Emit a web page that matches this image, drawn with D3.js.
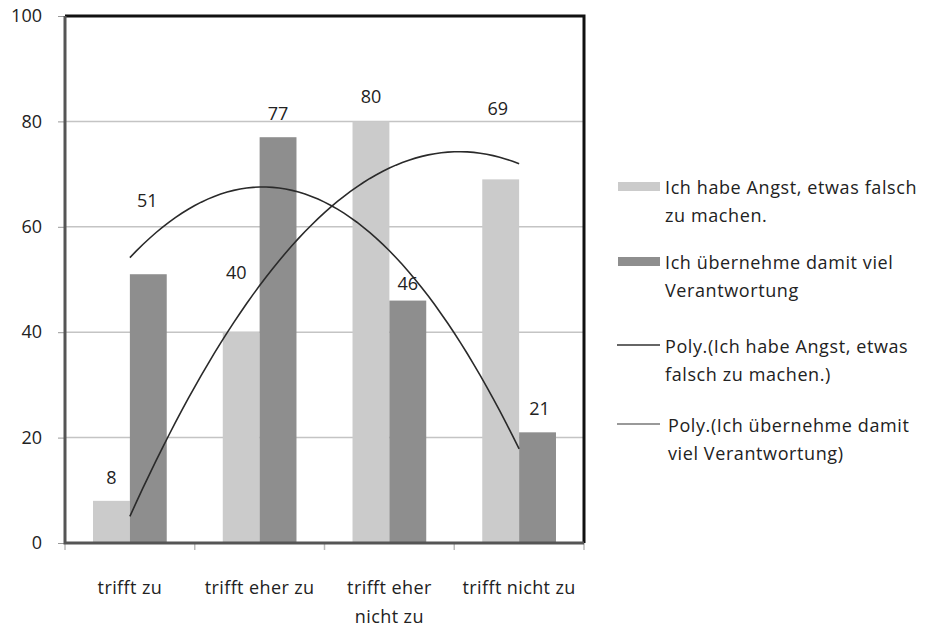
<!DOCTYPE html>
<meta charset="utf-8">
<style>
body {
  margin: 0;
  background: #fff;
  font-family: "Open Sans", "Liberation Sans", sans-serif;
}
text {
  fill: #222;
}
</style>
<body>
<script src="https://d3js.org/d3.v7.min.js"></script>
<script>

var categories = [["trifft zu"], ["trifft eher zu"], ["trifft eher", "nicht zu"], ["trifft nicht zu"]];
var angst = [8, 40, 80, 69];
var verantwortung = [51, 77, 46, 21];
var yTicks = [0, 20, 40, 60, 80, 100];
var seriesNames = [
  ["Ich habe Angst, etwas falsch", "zu machen."],
  ["Ich übernehme damit viel", "Verantwortung"],
  ["Poly.(Ich habe Angst, etwas", "falsch zu machen.)"],
  ["Poly.(Ich übernehme damit", "viel Verantwortung)"]
];

var width = 926,
    height = 627,
    plotLeft = 65, plotRight = 584, plotTop = 16, plotBottom = 543;

var svg = d3.select("body").append("svg")
    .attr("width", width)
    .attr("height", height);

var x = d3.scaleBand()
    .domain(d3.range(categories.length))
    .range([plotLeft, plotRight]);

var x1 = d3.scaleBand()
    .domain([0, 1])
    .range([0, x.bandwidth()])
    .paddingOuter(0.76)
    .paddingInner(0);

var y = d3.scaleLinear()
    .domain([0, 100])
    .range([plotBottom, plotTop]);

// gridlines
svg.append("g")
  .selectAll("line")
  .data(yTicks.filter(function(d) { return d > 0 && d < 100; }))
  .enter().append("line")
    .attr("x1", plotLeft).attr("x2", plotRight)
    .attr("y1", function(d) { return y(d); })
    .attr("y2", function(d) { return y(d); })
    .style("stroke", "#c4c4c4")
    .style("stroke-width", 1.5);

// y axis
var yAxis = svg.append("g")
    .attr("transform", "translate(" + plotLeft + ",0)")
    .call(d3.axisLeft(y).tickValues(yTicks).tickSize(7).tickPadding(16));
yAxis.select(".domain").remove();
yAxis.selectAll(".tick line").style("stroke", "#999");
yAxis.selectAll(".tick text").style("font-size", "18px").style("fill", "#222")
    .style("font-family", "'Open Sans', sans-serif");

// x ticks
svg.append("g")
  .selectAll("line")
  .data(d3.range(categories.length + 1))
  .enter().append("line")
    .attr("x1", function(d) { return plotLeft + d * x.step(); })
    .attr("x2", function(d) { return plotLeft + d * x.step(); })
    .attr("y1", plotBottom).attr("y2", plotBottom + 7)
    .style("stroke", "#bbb")
    .style("stroke-width", 1.5);

// x labels
var xl = svg.append("g")
  .selectAll("text")
  .data(categories)
  .enter().append("text")
    .attr("text-anchor", "middle")
    .attr("x", function(d, i) { return x(i) + x.bandwidth() / 2; })
    .attr("y", 594)
    .style("font-size", "18px")
    .style("letter-spacing", "0.4px");
xl.selectAll("tspan")
  .data(function(d) { return d; })
  .enter().append("tspan")
    .attr("x", function() { return d3.select(this.parentNode).attr("x"); })
    .attr("dy", function(d, i) { return i ? 29 : 0; })
    .text(function(d) { return d; });

var series = [
  {values: angst, color: "#cbcbcb"},
  {values: verantwortung, color: "#8e8e8e"}
];

// bars
series.forEach(function(s, si) {
  svg.append("g")
    .selectAll("rect")
    .data(s.values)
    .enter().append("rect")
      .attr("x", function(d, i) { return x(i) + x1(si); })
      .attr("width", x1.bandwidth())
      .attr("y", function(d) { return y(d); })
      .attr("height", function(d) { return plotBottom - y(d); })
      .style("fill", s.color);
});

// frame
svg.append("path")
    .attr("d", "M" + plotLeft + "," + plotTop + "H" + plotRight + "V" + plotBottom)
    .style("fill", "none")
    .style("stroke", "#111")
    .style("stroke-width", 3);
svg.append("path")
    .attr("d", "M" + plotLeft + "," + plotTop + "V" + plotBottom + "H" + plotRight)
    .style("fill", "none")
    .style("stroke", "#555")
    .style("stroke-width", 3);

// polynomial (order 2) trend lines, least squares fit
function polyFit(vals) {
  var n = vals.length, xs = d3.range(1, n + 1);
  var S = [0, 0, 0, 0, 0], T = [0, 0, 0];
  xs.forEach(function(xv, i) {
    for (var k = 0; k < 5; k++) S[k] += Math.pow(xv, k);
    for (var k2 = 0; k2 < 3; k2++) T[k2] += Math.pow(xv, k2) * vals[i];
  });
  var A = [[S[0], S[1], S[2], T[0]], [S[1], S[2], S[3], T[1]], [S[2], S[3], S[4], T[2]]];
  for (var c = 0; c < 3; c++) {
    for (var r = c + 1; r < 3; r++) {
      var f = A[r][c] / A[c][c];
      for (var k3 = c; k3 < 4; k3++) A[r][k3] -= f * A[c][k3];
    }
  }
  var coef = [0, 0, 0];
  for (var r2 = 2; r2 >= 0; r2--) {
    var s = A[r2][3];
    for (var k4 = r2 + 1; k4 < 3; k4++) s -= A[r2][k4] * coef[k4];
    coef[r2] = s / A[r2][r2];
  }
  return function(t) { return coef[0] + coef[1] * t + coef[2] * t * t; };
}

var xc = d3.scaleLinear()
    .domain([1, categories.length])
    .range([x(0) + x.bandwidth() / 2, x(categories.length - 1) + x.bandwidth() / 2]);

var line = d3.line()
    .x(function(d) { return xc(d[0]); })
    .y(function(d) { return y(d[1]); });

series.forEach(function(s) {
  var fn = polyFit(s.values);
  var pts = d3.range(1, categories.length + 0.001, 0.05).map(function(t) { return [t, fn(t)]; });
  svg.append("path")
      .datum(pts)
      .attr("d", line)
      .style("fill", "none")
      .style("stroke", "#2a2a2a")
      .style("stroke-width", 1.6);
});

// value labels (manual nudges as placed in the original)
var labelNudge = [[[0, -24], [-5, -60], [0, -25], [-3, -71]], [[-1, -74], [0, -24], [0, -18], [2, -24]]];
series.forEach(function(s, si) {
  svg.append("g")
    .selectAll("text")
    .data(s.values)
    .enter().append("text")
      .attr("text-anchor", "middle")
      .attr("dominant-baseline", "central")
      .attr("x", function(d, i) { return x(i) + x1(si) + x1.bandwidth() / 2 + labelNudge[si][i][0]; })
      .attr("y", function(d, i) { return y(d) + labelNudge[si][i][1]; })
      .style("font-size", "18px")
      .text(function(d) { return d; });
});

// legend
var legendY = [186, 261, 345, 424];
var legend = svg.append("g");
seriesNames.forEach(function(lines, i) {
  var g = legend.append("g").attr("transform", "translate(0," + legendY[i] + ")");
  if (i < 2) {
    g.append("rect")
      .attr("x", 618).attr("y", -4).attr("width", 42).attr("height", 9)
      .style("fill", series[i].color);
  } else {
    g.append("line")
      .attr("x1", 617).attr("x2", 660).attr("y1", 0).attr("y2", 0)
      .style("stroke", i === 2 ? "#333" : "#777")
      .style("stroke-width", 1.6);
  }
  g.selectAll("text")
    .data(lines)
    .enter().append("text")
      .attr("x", i === 3 ? 668 : 665)
      .attr("y", function(d, j) { return j * 28 + 1; })
      .attr("dominant-baseline", "central")
      .style("font-size", "18px")
      .style("letter-spacing", "0.6px")
      .style("fill", "#222")
      .text(function(d) { return d; });
});

</script>
